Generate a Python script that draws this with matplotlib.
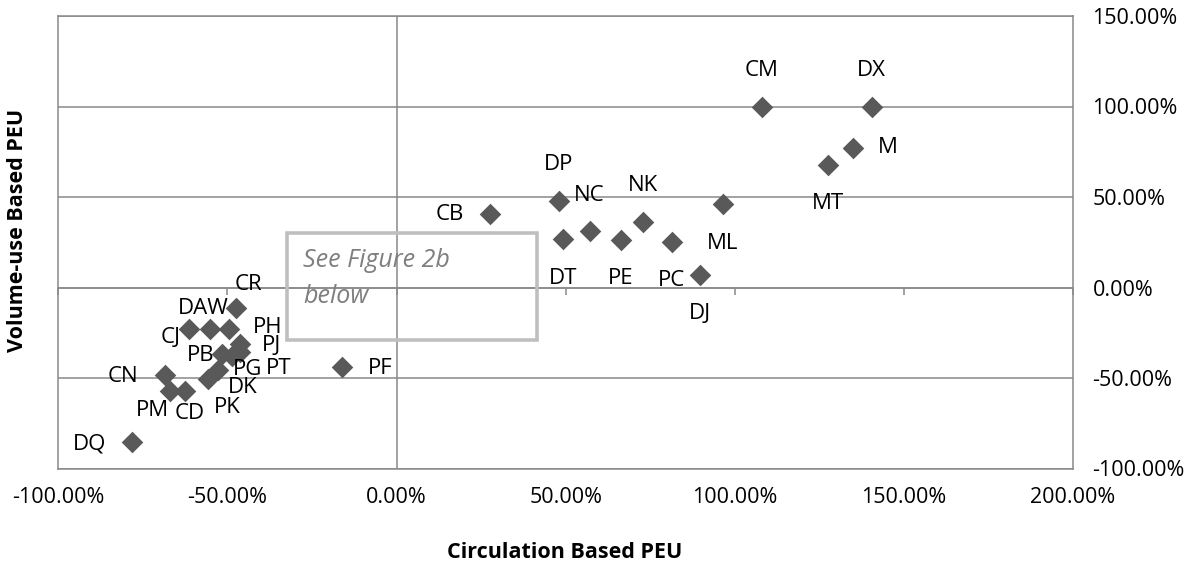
import matplotlib
matplotlib.use('Agg')
import matplotlib.pyplot as plt
from matplotlib.ticker import FuncFormatter
from matplotlib.patches import Rectangle

# ---------------- data ----------------
names = ['CM', 'DX', 'M', 'MT', 'ML', 'DP', 'CB', 'DT', 'NC', 'PE', 'NK', 'PC', 'DJ',
         'CR', 'DAW', 'CJ', 'PH', 'PJ', 'PB', 'PG', 'PT', 'CN', 'DK', 'PK', 'PM', 'CD', 'DQ', 'PF']
circulation_peu = [108.0, 140.5, 134.9, 127.6, 96.4, 48.0, 27.7, 49.2, 57.1, 66.3, 72.8, 81.4, 89.6,
                   -47.4, -55.1, -61.5, -49.5, -46.2, -51.6, -48.7, -46.2, -68.6, -52.8, -55.8,
                   -66.9, -62.4, -78.3, -16.2]
volume_peu = [100.0, 100.0, 77.2, 67.7, 46.0, 48.0, 40.6, 26.6, 31.2, 26.2, 36.4, 25.1, 6.9,
              -11.5, -23.1, -23.1, -23.1, -31.2, -36.7, -37.8, -35.6, -48.3, -45.6, -50.6,
              -57.3, -57.2, -85.2, -43.8]
x_ticks = [-100, -50, 0, 50, 100, 150, 200]
y_ticks = [-100, -50, 0, 50, 100, 150]
x_title = 'Circulation Based PEU'
y_title = 'Volume-use Based PEU'
note_lines = ['See Figure 2b', 'below']

# label placement (pixel offsets from each point)
label_offsets = {
    'CM': (0, 36), 'DX': (0, 36), 'M': (35, 0), 'MT': (0, -39), 'ML': (0, -39),
    'DP': (0, 36), 'CB': (-40, 0), 'DT': (0, -39), 'NC': (0, 36), 'PE': (0, -38),
    'NK': (0, 36), 'PC': (0, -38), 'DJ': (0, -38), 'CR': (12, 24), 'DAW': (-7, 21),
    'CJ': (-18, -8), 'PH': (39, 2), 'PJ': (31, -2), 'PB': (-21, -2), 'PG': (16, -14),
    'PT': (38, -17), 'CN': (-42, -2), 'DK': (25, -17), 'PK': (20, -28), 'PM': (-18, -19),
    'CD': (4, -22), 'DQ': (-42, -2), 'PF': (38, -2),
}

FONT = 'Open Sans'
GRID = '#898989'
MARK = '#595959'

fig = plt.figure(figsize=(12.03, 5.77), dpi=100)
W, H = 1203, 577
ax = fig.add_axes([58.3 / W, 1 - 468.5 / H, (1073 - 58.3) / W, (468.5 - 16) / H])

ax.set_xlim(x_ticks[0], x_ticks[-1])
ax.set_ylim(y_ticks[0], y_ticks[-1])

for y in y_ticks:
    ax.axhline(y, color=GRID, lw=1.1, zorder=1)
ax.axvline(0, color=GRID, lw=1.1, zorder=1)

for s in ax.spines.values():
    s.set_color(GRID)
    s.set_linewidth(1.1)

fmt = FuncFormatter(lambda v, p: f'{v:.2f}%')
ax.set_xticks(x_ticks)
ax.set_yticks(y_ticks)
ax.xaxis.set_major_formatter(fmt)
ax.yaxis.set_major_formatter(fmt)
ax.yaxis.tick_right()
ax.tick_params(axis='both', length=0, labelsize=15.5, labelcolor='black')
ax.tick_params(axis='y', pad=14)
ax.tick_params(axis='x', pad=13)
for lab in ax.get_xticklabels() + ax.get_yticklabels():
    lab.set_fontfamily(FONT)

# x axis crossing at y = 0 with tick marks
frac = (0 - y_ticks[0]) / (y_ticks[-1] - y_ticks[0])
sec = ax.secondary_xaxis(frac)
sec.set_xticks(x_ticks)
sec.set_xticklabels([])
sec.tick_params(length=5, direction='out', color=GRID, width=1.1)
sec.spines['bottom'].set_color(GRID)
sec.spines['bottom'].set_linewidth(1.1)

ax.scatter(circulation_peu, volume_peu, marker='D', s=11 ** 2, color=MARK,
           linewidths=0, zorder=3)

for n, x, y in zip(names, circulation_peu, volume_peu):
    dx, dy = label_offsets[n]
    ax.annotate(n, (x, y), xytext=(dx, dy), textcoords='offset pixels',
                ha='center', va='center', fontsize=16, family=FONT, color='black',
                zorder=4)

# "See Figure 2b below" note box
ax.add_patch(Rectangle((-32.3, -29.0), 41.6 + 32.3, 30.3 + 29.0, fill=False,
                       edgecolor='#bfbfbf', lw=2.6, zorder=2))
ax.text(-27.6, 11.5, note_lines[0], fontsize=18, family=FONT, style='italic',
        color='#7f7f7f', ha='left', va='baseline', zorder=4)
ax.text(-27.6, -8.6, note_lines[1], fontsize=18, family=FONT, style='italic',
        color='#7f7f7f', ha='left', va='baseline', zorder=4)

fig.text(565 / W, 1 - 552 / H, x_title, ha='center', va='center', fontsize=15.5,
         fontweight='bold', family=FONT)
fig.text(18 / W, 1 - 230 / H, y_title, ha='center', va='center', rotation=90,
         fontsize=15.5, fontweight='bold', family=FONT)

fig.savefig('out.png', dpi=100)
